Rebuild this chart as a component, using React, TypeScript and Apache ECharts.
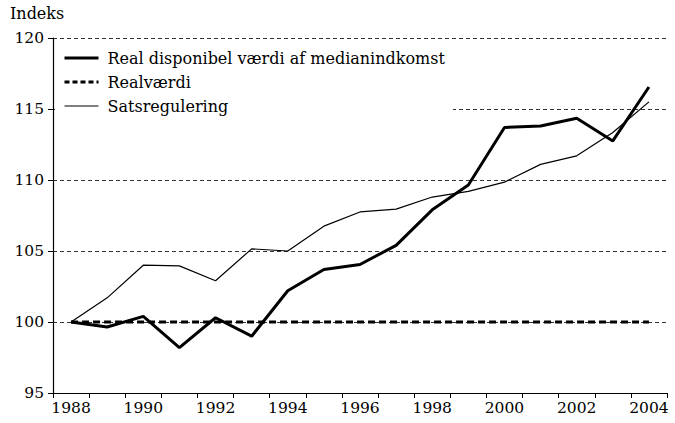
import React, { useEffect, useRef } from "react";
import * as echarts from "echarts";

const years = ["1988","1989","1990","1991","1992","1993","1994","1995","1996","1997","1998","1999","2000","2001","2002","2003","2004"];
const realDisponibel = [100, 99.65, 100.4, 98.2, 100.3, 99.0, 102.2, 103.7, 104.05, 105.4, 107.9, 109.65, 113.7, 113.8, 114.35, 112.75, 116.55];
const realvaerdi = [100, 100, 100, 100, 100, 100, 100, 100, 100, 100, 100, 100, 100, 100, 100, 100, 100];
const satsregulering = [100, 101.7, 104.0, 103.95, 102.9, 105.15, 105.0, 106.75, 107.75, 107.95, 108.8, 109.2, 109.85, 111.1, 111.7, 113.35, 115.5];

const FONT = "DejaVu Serif";

export default function App() {
  const ref = useRef<HTMLDivElement>(null);
  useEffect(() => {
    if (!ref.current) return;
    const chart = echarts.init(ref.current, undefined, { renderer: "svg" });
    chart.setOption({
      animation: false,
      backgroundColor: "#fff",
      graphic: [
        { type: "text", left: 10, top: 5, style: { text: "Indeks", fontFamily: FONT, fontSize: 16, fill: "#000" } },
      ],
      legend: {
        orient: "vertical",
        left: 55,
        top: 46,
        padding: [4, 8, 4, 8],
        backgroundColor: "#fff",
        itemWidth: 34,
        itemHeight: 14,
        itemGap: 8,
        itemStyle: { opacity: 0 },
        textStyle: { fontFamily: FONT, fontSize: 16, color: "#000", padding: [0, 0, 0, 4] },
        data: [
          { name: "Real disponibel værdi af medianindkomst", lineStyle: { width: 3, color: "#000" } },
          { name: "Realværdi", lineStyle: { width: 3, color: "#000", type: [5, 3] } },
          { name: "Satsregulering", lineStyle: { width: 1.2, color: "#000" } },
        ],
      },
      grid: { left: 53, right: 8, top: 38, bottom: 30 },
      xAxis: {
        type: "category",
        data: years,
        boundaryGap: true,
        axisLine: { lineStyle: { color: "#000", width: 1.2 } },
        axisTick: { show: true, interval: 0, length: 5, lineStyle: { color: "#000" } },
        axisLabel: { interval: 1, fontFamily: FONT, fontSize: 15.5, color: "#000", margin: 7 },
        splitLine: { show: false },
      },
      yAxis: {
        type: "value",
        min: 95,
        max: 120,
        interval: 5,
        axisLine: { show: true, lineStyle: { color: "#000", width: 1.2 } },
        axisTick: { show: true, inside: false, length: 5, lineStyle: { color: "#000" } },
        axisLabel: { fontFamily: FONT, fontSize: 15.5, color: "#000", margin: 9 },
        splitLine: { show: true, lineStyle: { color: "#000", width: 0.8, type: [4, 3] } },
      },
      series: [
        {
          name: "Real disponibel værdi af medianindkomst",
          type: "line",
          data: realDisponibel,
          symbol: "none",
          lineStyle: { color: "#000", width: 3 },
          itemStyle: { color: "#000" },
          z: 3,
        },
        {
          name: "Realværdi",
          type: "line",
          data: realvaerdi,
          symbol: "none",
          lineStyle: { color: "#000", width: 3, type: [7, 4] },
          itemStyle: { color: "#000" },
          z: 2,
        },
        {
          name: "Satsregulering",
          type: "line",
          data: satsregulering,
          symbol: "none",
          lineStyle: { color: "#000", width: 1.2 },
          itemStyle: { color: "#000" },
          z: 2,
        },
      ],
    });
    return () => chart.dispose();
  }, []);
  return <div ref={ref} style={{ width: 675, height: 423, position: "absolute", left: 0, top: 0 }} />;
}
